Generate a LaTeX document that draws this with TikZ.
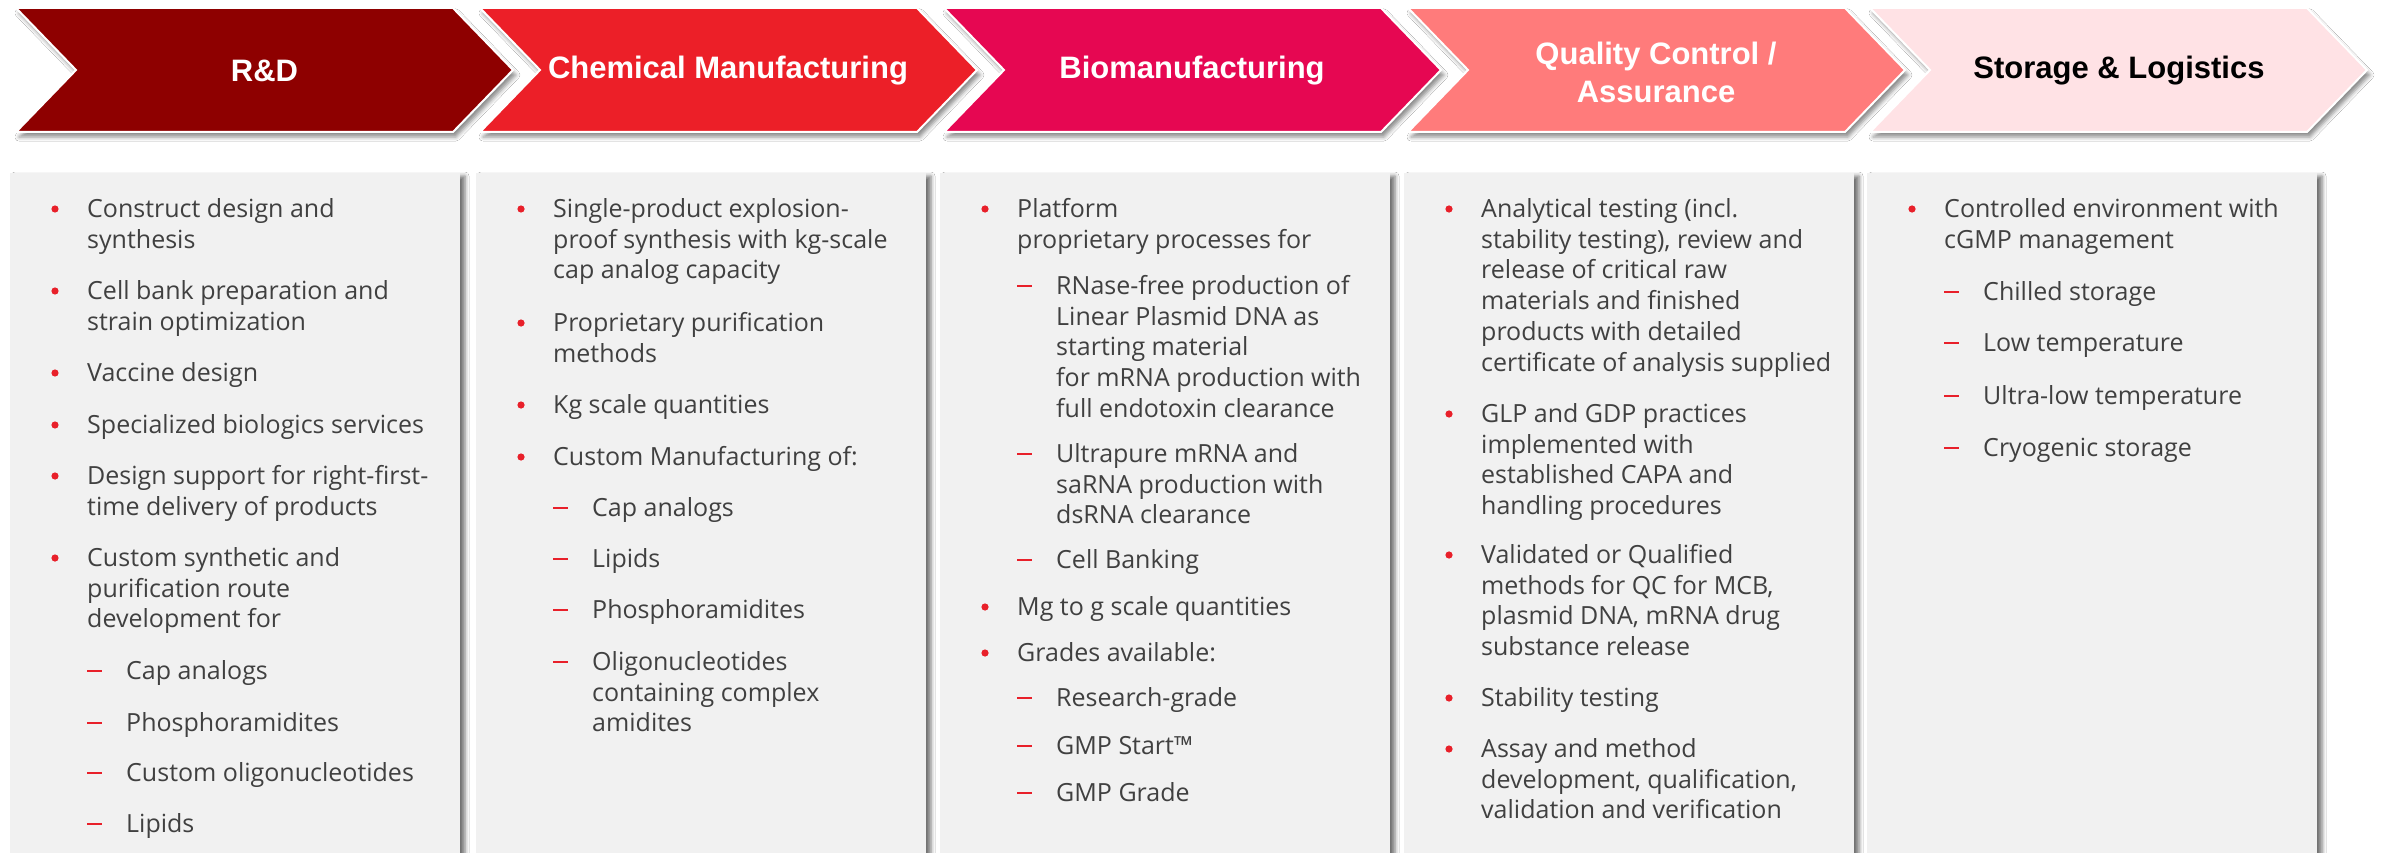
\documentclass[tikz,border=0pt]{standalone}
\usepackage{fontspec}
\setmainfont{Open Sans}
\newfontfamily\hdfont{Liberation Sans}
\usetikzlibrary{shadows.blur}
\definecolor{cRD}{HTML}{8E0000}
\definecolor{cCM}{HTML}{EC1F28}
\definecolor{cBM}{HTML}{E60752}
\definecolor{cQC}{HTML}{FF7B7B}
\definecolor{cSL}{HTML}{FFE2E5}
\definecolor{panelgray}{HTML}{F1F1F1}
\definecolor{txtgray}{HTML}{404040}
\definecolor{bulred}{HTML}{E8202A}
\newcommand{\chev}[2]{\path[chevron, fill=#2] (#1,8) -- ++(437,0) -- ++(60,62) -- ++(-60,62) -- ++(-437,0) -- ++(60,-62) -- cycle;}
\newcommand{\bitem}[4]{\fill[bulred] (#2+45,#3+2) circle (3.6);
  \node[itemtxt] (#1) at (#2+77,#3-15) {\rule{0pt}{25pt}#4};}
\newcommand{\ditem}[4]{\draw[dashln] (#2+77,#3+2) -- (#2+92,#3+2);
  \node[itemtxt] (#1) at (#2+116,#3-15) {\rule{0pt}{25pt}#4};}
\begin{document}
\begin{tikzpicture}[x=1pt,y=-1pt,
  chevron/.style={draw=white, line width=2pt, line join=miter,
    blur shadow={shadow xshift=3pt, shadow yshift=-5pt, shadow blur radius=4pt, shadow opacity=45}},
  panel/.style={fill=panelgray,
    blur shadow={shadow xshift=5pt, shadow yshift=-3pt, shadow blur radius=4pt, shadow opacity=55}},
  hd/.style={font=\hdfont\bfseries\fontsize{31}{38}\selectfont, text=white, align=center, inner sep=0pt},
  itemtxt/.style={anchor=north west, inner sep=0pt, align=left, text=txtgray,
    font=\fontsize{25}{30.8}\selectfont},
  dashln/.style={draw=bulred, line width=2.6pt}]
\useasboundingbox (0,0) rectangle (2384,853);
\clip (0,0) rectangle (2384,853);
\fill[white] (0,0) rectangle (2384,853);
% chevrons
\chev{16}{cRD}
\chev{480}{cCM}
\chev{944}{cBM}
\chev{1408}{cQC}
\chev{1870}{cSL}
\node[hd] (hRD) at (264.5,71) {R\&D};
\node[hd] (hCM) at (728,71) {Chemical Manufacturing};
\node[hd] (hBM) at (1192,71) {Biomanufacturing};
\node[hd] (hQC) at (1656,72) {Quality Control /\\Assurance};
\node[hd, text=black] (hSL) at (2119,71) {Storage \& Logistics};
% panels
\path[panel] (10,173) rectangle (460,900);
\path[panel] (476,173) rectangle (926,900);
\path[panel] (940,173) rectangle (1390,900);
\path[panel] (1404,173) rectangle (1854,900);
\path[panel] (1867,173) rectangle (2317,900);
% panel 1
\bitem{a1}{10}{207}{Construct design and\\synthesis}
\bitem{a2}{10}{289}{Cell bank preparation and\\strain optimization}
\bitem{a3}{10}{371}{Vaccine design}
\bitem{a4}{10}{423}{Specialized biologics services}
\bitem{a5}{10}{474}{Design support for right-first-\\time delivery of products}
\bitem{a6}{10}{556}{Custom synthetic and\\purification route\\development for}
\ditem{a7}{10}{669}{Cap analogs}
\ditem{a8}{10}{721}{Phosphoramidites}
\ditem{a9}{10}{771}{Custom oligonucleotides}
\ditem{a10}{10}{822}{Lipids}
% panel 2
\bitem{b1}{476}{207}{Single-product explosion-\\proof synthesis with kg-scale\\cap analog capacity}
\bitem{b2}{476}{321}{Proprietary purification\\methods}
\bitem{b3}{476}{403}{Kg scale quantities}
\bitem{b4}{476}{455}{Custom Manufacturing of:}
\ditem{b5}{476}{506}{Cap analogs}
\ditem{b6}{476}{557}{Lipids}
\ditem{b7}{476}{608}{Phosphoramidites}
\ditem{b8}{476}{660}{Oligonucleotides\\containing complex\\amidites}
% panel 3
\bitem{c1}{940}{207}{Platform\\proprietary processes for}
\ditem{c2}{940}{284}{RNase-free production of\\Linear Plasmid DNA as\\starting material\\for mRNA production with\\full endotoxin clearance}
\ditem{c3}{940}{452}{Ultrapure mRNA and\\saRNA production with\\dsRNA clearance}
\ditem{c4}{940}{558}{Cell Banking}
\bitem{c5}{940}{605}{Mg to g scale quantities}
\bitem{c6}{940}{651}{Grades available:}
\ditem{c7}{940}{696}{Research-grade}
\ditem{c8}{940}{744}{GMP Start™}
\ditem{c9}{940}{791}{GMP Grade}
% panel 4
\bitem{d1}{1404}{207}{Analytical testing (incl.\\stability testing), review and\\release of critical raw\\materials and finished\\products with detailed\\certificate of analysis supplied}
\bitem{d2}{1404}{412}{GLP and GDP practices\\implemented with\\established CAPA and\\handling procedures}
\bitem{d3}{1404}{553}{Validated or Qualified\\methods for QC for MCB,\\plasmid DNA, mRNA drug\\substance release}
\bitem{d4}{1404}{696}{Stability testing}
\bitem{d5}{1404}{747}{Assay and method\\development, qualification,\\validation and verification}
% panel 5
\bitem{e1}{1867}{207}{Controlled environment with\\cGMP management}
\ditem{e2}{1867}{290}{Chilled storage}
\ditem{e3}{1867}{341}{Low temperature}
\ditem{e4}{1867}{394}{Ultra-low temperature}
\ditem{e5}{1867}{446}{Cryogenic storage}
\end{tikzpicture}
\end{document}
